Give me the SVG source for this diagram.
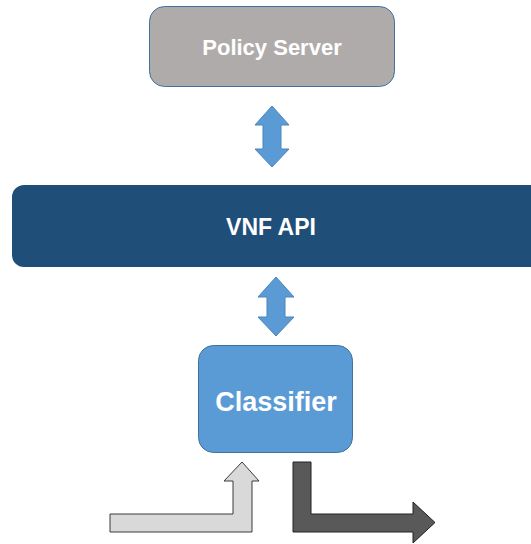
<svg xmlns="http://www.w3.org/2000/svg" width="531" height="544" viewBox="0 0 531 544">
<style>
.lbl{font-family:"Liberation Sans",Arial,sans-serif;font-weight:bold;fill:#ffffff;text-anchor:middle}
.dbl{fill:#5b9bd5;stroke:#4a84bb;stroke-width:1}
</style>
<rect width="531" height="544" fill="#ffffff"/>
<g id="policy-server">
<rect x="149.5" y="6.5" width="245" height="80" rx="15" fill="#afabab" stroke="#41719c" stroke-width="1"/>
<text class="lbl" x="272" y="55" font-size="22">Policy Server</text>
</g>
<g id="vnf-api">
<rect x="12" y="185" width="540" height="82" rx="12" fill="#1f4e79"/>
<text class="lbl" x="271" y="235" font-size="23">VNF API</text>
</g>
<g id="classifier">
<rect x="198.5" y="345.5" width="154" height="107" rx="15" fill="#5b9bd5" stroke="#41719c" stroke-width="1"/>
<text class="lbl" x="276" y="411" font-size="27">Classifier</text>
</g>
<g id="connectors">
<path class="dbl" d="M272,106 L289,125 L281,125 L281,149 L289,149 L272,167 L255,149 L263,149 L263,125 L255,125 Z"/>
<path class="dbl" d="M276,277 L294,297 L285,297 L285,317 L294,317 L276,336 L258,317 L267,317 L267,297 L258,297 Z"/>
<path d="M110,514 L233,514 L233,481 L224,481 L242,462 L259,481 L252,481 L252,532 L110,532 Z" fill="#d9d9d9" stroke="#3a3a3a" stroke-width="1"/>
<path d="M293,462 L311,462 L311,514 L413,514 L413,502 L435,522.5 L413,543 L413,532 L293,532 Z" fill="#595959" stroke="#222222" stroke-width="1"/>
</g>
</svg>
